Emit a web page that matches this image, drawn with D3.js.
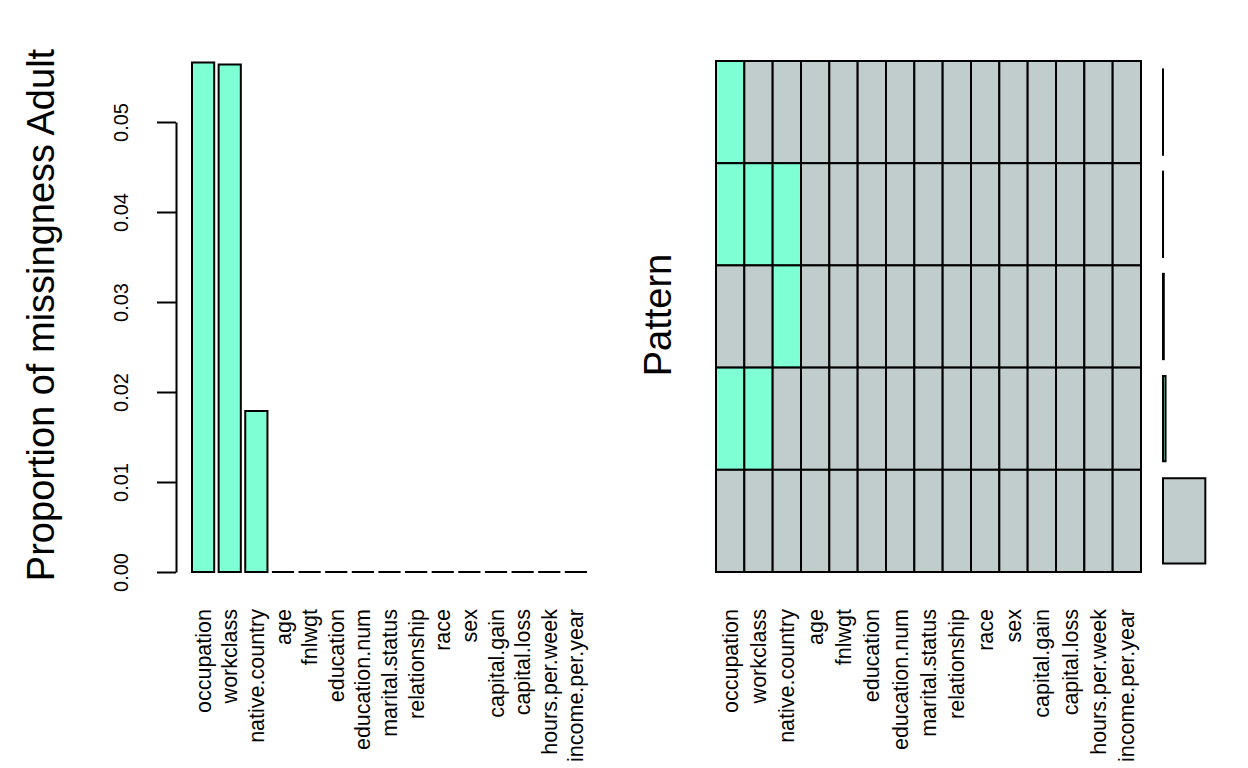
<!DOCTYPE html>
<html lang="en">
<head>
  <meta charset="UTF-8" />
  <title>Missingness Adult</title>
  <style>
    body {
      margin: 0;
      background: #fff;
    }

    text {
      font-family: 'Liberation Sans', Arial, sans-serif;
      fill: #000;
    }

    .axis path,
    .axis line {
      stroke: #000;
      stroke-width: 2px;
    }
  </style>
  <script src="https://d3js.org/d3.v7.min.js"></script>
</head>
<body>
  <svg></svg>

  <script>
    // variables, in the order the plot sorts them
    const variables = [
      'occupation', 'workclass', 'native.country', 'age', 'fnlwgt',
      'education', 'education.num', 'marital.status', 'relationship',
      'race', 'sex', 'capital.gain', 'capital.loss', 'hours.per.week',
      'income.per.year'
    ];
    // proportion of missing values per variable
    const missingProp = [
      0.0566, 0.0564, 0.0179, 0, 0, 0, 0, 0, 0, 0, 0, 0, 0, 0, 0
    ];
    const yTicks = [0, 0.01, 0.02, 0.03, 0.04, 0.05];

    // missingness patterns, top row first: which variables are missing
    const patterns = [
      ['occupation'],
      ['occupation', 'workclass', 'native.country'],
      ['native.country'],
      ['occupation', 'workclass'],
      []
    ];
    // share of rows having each pattern
    const patternProp = [0.0002, 0.0008, 0.0171, 0.0556, 0.9263];

    const missCol = '#7fffd4';
    const okCol = '#c1cdcd';

    const svg = d3.select('svg')
      .attr('width', 1248)
      .attr('height', 768);

    svg.append('rect')
      .attr('width', 1248)
      .attr('height', 768)
      .attr('fill', '#fff');

    // box as a path so that zero-height bars still show their outline
    function box(x0, y0, w, h) {
      return `M${x0},${y0}H${x0 + w}V${y0 + h}H${x0}Z`;
    }

    // ---------- left: bar chart of missing proportions ----------
    const x = d3.scaleBand()
      .domain(variables)
      .range([192, 587])
      .paddingInner(1 / 6)
      .paddingOuter(0);

    const y = d3.scaleLinear()
      .domain([0, 0.05])
      .range([572, 122]);

    const left = svg.append('g');

    left.selectAll('.bar')
      .data(variables)
      .enter()
      .append('path')
      .attr('class', 'bar')
      .attr('d', (d, i) =>
        box(x(d), y(missingProp[i]), x.bandwidth(), y(0) - y(missingProp[i])))
      .attr('fill', missCol)
      .attr('stroke', '#000')
      .attr('stroke-width', 2);

    const yAxis = left.append('g')
      .attr('class', 'axis')
      .attr('transform', 'translate(176,0)')
      .call(
        d3.axisLeft(y)
          .tickValues(yTicks)
          .tickFormat(d3.format('.2f'))
          .tickSize(19)
          .tickSizeOuter(0)
      );
    yAxis.selectAll('text')
      .attr('transform', 'rotate(-90)')
      .attr('x', 0)
      .attr('y', -48)
      .attr('dy', 0)
      .attr('text-anchor', 'middle')
      .attr('font-size', 20)
      .attr('font-family', "'Liberation Sans', Arial, sans-serif");

    left.selectAll('.xlab')
      .data(variables)
      .enter()
      .append('text')
      .attr('class', 'xlab')
      .attr('transform', (d) =>
        `translate(${x(d) + x.bandwidth() / 2},609) rotate(-90)`)
      .attr('dy', '0.35em')
      .attr('text-anchor', 'end')
      .attr('font-size', 21.5)
      .text((d) => d);

    left.append('text')
      .attr('transform', 'translate(54,315) rotate(-90)')
      .attr('text-anchor', 'middle')
      .attr('font-size', 38)
      .text('Proportion of missingness Adult');

    // ---------- right: pattern grid ----------
    const gx = d3.scaleBand()
      .domain(variables)
      .range([716, 1141]);

    const gy = d3.scaleBand()
      .domain(d3.range(patterns.length))
      .range([61, 572]);

    const right = svg.append('g');

    const cells = [];
    patterns.forEach((p, i) => {
      variables.forEach((v) => {
        cells.push({ row: i, v, miss: p.includes(v) });
      });
    });

    right.selectAll('.cell')
      .data(cells)
      .enter()
      .append('rect')
      .attr('class', 'cell')
      .attr('x', (d) => gx(d.v))
      .attr('y', (d) => gy(d.row))
      .attr('width', gx.bandwidth())
      .attr('height', gy.bandwidth())
      .attr('fill', (d) => (d.miss ? missCol : okCol))
      .attr('stroke', '#000')
      .attr('stroke-width', 2);

    right.selectAll('.glab')
      .data(variables)
      .enter()
      .append('text')
      .attr('class', 'glab')
      .attr('transform', (d) =>
        `translate(${gx(d) + gx.bandwidth() / 2},609) rotate(-90)`)
      .attr('dy', '0.35em')
      .attr('text-anchor', 'end')
      .attr('font-size', 21.5)
      .text((d) => d);

    right.append('text')
      .attr('transform', 'translate(671,315) rotate(-90)')
      .attr('text-anchor', 'middle')
      .attr('font-size', 38)
      .text('Pattern');

    // proportion of each pattern, small bars at the right
    const px = d3.scaleLinear()
      .domain([0, 1])
      .range([1163, 1208.7]);

    const inset = gy.bandwidth() * 0.0825;

    right.selectAll('.pbar')
      .data(patternProp)
      .enter()
      .append('path')
      .attr('class', 'pbar')
      .attr('d', (d, i) =>
        box(px(0), gy(i) + inset, px(d) - px(0), gy.bandwidth() - 2 * inset))
      .attr('fill', (d, i) => (patterns[i].length ? missCol : okCol))
      .attr('stroke', '#000')
      .attr('stroke-width', 2);
  </script>
</body>
</html>
